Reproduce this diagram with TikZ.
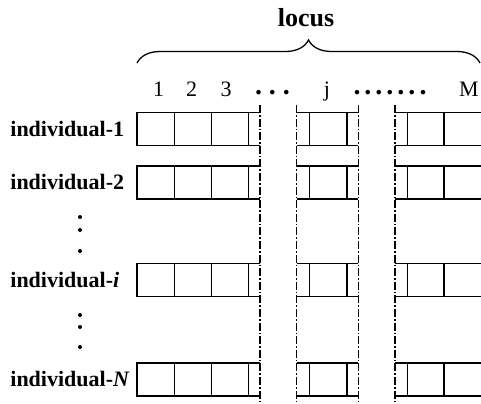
\documentclass[tikz,border=0pt]{standalone}
\usepackage{fontspec}
\setmainfont{Liberation Serif}
\usetikzlibrary{decorations.pathreplacing}

\tikzset{
  cellline/.style={line width=0.8pt},
  cutline/.style={line width=0.6pt, dash pattern=on 4pt off 1pt on 0.8pt off 1pt},
  rowlabel/.style={anchor=west, inner sep=0pt, font=\fontsize{11}{13}\selectfont\bfseries},
  colnum/.style={anchor=base, inner sep=0pt},
  dotrow/.style={colnum, font=\fontsize{14}{16}\selectfont\bfseries},
}

\begin{document}
\begin{tikzpicture}[x=0.5pt, y=-0.5pt, font=\fontsize{11}{13}\selectfont]
  \useasboundingbox (0,0) rectangle (481,403);

  % brace over all the loci, title on top
  \coordinate (bl) at (137,63);
  \coordinate (br) at (480,63);
  \draw[line width=0.65pt, decorate, decoration={brace, amplitude=11.5pt}] (bl) -- (br);
  \node[colnum, font=\fontsize{13}{15}\selectfont\bfseries] (locus) at (306,26.7) {locus};

  % locus numbers above the columns
  \node[colnum] (c1) at (158.5,96.7) {1};
  \node[colnum] (c2) at (191.5,96.7) {2};
  \node[colnum] (c3) at (226,96.7) {3};
  \node[dotrow] (cdots) at (272.5,94) {.\hspace{3.4pt}.\hspace{3.4pt}.};
  \node[colnum] (cj) at (327,96.7) {j};
  \node[dotrow] (cdotsb) at (390,94) {.\hspace{2pt}.\hspace{2pt}.\hspace{2pt}.\hspace{2pt}.\hspace{2pt}.\hspace{2pt}.};
  \node[colnum] (cM) at (469,96.7) {M};

  % cut lines between the shown groups of loci
  \foreach \x in {260,296.7,358.3,395}
    \draw[cutline] (\x,105) -- (\x,403);

  % one chromosome per row: label, then three groups of cells
  \foreach \t/\name/\txt in {112.3/ind1/individual-1, 165.7/ind2/individual-2,
                             263.3/indi/{individual-\textit{i}}, 362.7/indN/{individual-\textit{N}}} {
    \pgfmathsetmacro{\b}{\t+33}
    \node[rowlabel] (\name) at (10,{(\t+\b)/2}) {\txt};
    % first group, open at the cut line
    \draw[cellline] (260,\t) -- (137,\t) -- (137,\b) -- (260,\b);
    \foreach \x in {174.5,211.5,248.5}
      \draw[cellline] (\x,\t) -- (\x,\b);
    % middle group around locus j
    \draw[cellline] (296.7,\t) -- (358.3,\t) (296.7,\b) -- (358.3,\b);
    \foreach \x in {309.3,346.7}
      \draw[cellline] (\x,\t) -- (\x,\b);
    % last group running up to locus M
    \draw[cellline] (395,\t) -- (481,\t) (395,\b) -- (481,\b);
    \foreach \x in {407.3,444}
      \draw[cellline] (\x,\t) -- (\x,\b);
  }

  % vertical dots for the rows left out
  \foreach \y in {217,230,251,315,327,347}
    \fill (80,\y) circle (2);
\end{tikzpicture}
\end{document}
